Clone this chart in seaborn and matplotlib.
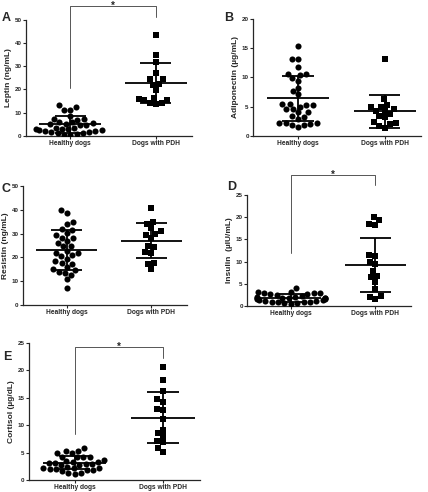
import numpy as np
import pandas as pd
import seaborn as sns
import matplotlib.pyplot as plt

groups = ["Healthy dogs", "Dogs with PDH"]

leptin_healthy = [13.2, 12.5, 11.3, 11.2, 8.5, 7.3, 7.2, 7.0, 6.0, 5.8, 5.5, 5.2, 5.0, 4.8, 4.6,
                  3.5, 3.3, 3.1, 3.0, 2.8, 2.6, 2.4, 2.2, 2.0, 1.8, 1.5, 1.2, 1.0, 0.7, 0.4, 0.3]
leptin_pdh = [43.5, 35.0, 31.8, 27.2, 24.3, 24.3, 22.5, 22.0, 19.8, 16.2, 15.3, 15.3, 16.0, 14.0, 13.8, 14.0]
adipo_healthy = [15.3, 13.2, 13.2, 11.7, 10.6, 10.5, 10.3, 9.8, 9.3, 8.2, 7.7, 7.1, 5.3, 5.2, 5.0, 5.4,
                 5.5, 4.6, 4.6, 4.0, 4.0, 3.3, 3.2, 2.8, 2.2, 2.1, 2.1, 2.0, 1.9, 1.8, 1.5]
adipo_pdh = [13.2, 6.2, 5.3, 5.0, 4.9, 4.5, 4.3, 4.2, 3.7, 3.4, 3.2, 2.3, 2.1, 2.0, 1.7, 1.4]
resist_healthy = [39.8, 38.8, 35.0, 34.2, 32.0, 31.5, 30.3, 29.3, 28.3, 28.0, 27.0, 26.0, 25.0, 24.8,
                  22.8, 22.0, 21.7, 21.0, 20.8, 19.5, 18.3, 17.5, 17.2, 16.0, 15.0, 14.8, 14.0, 13.5,
                  12.8, 11.0, 7.0]
resist_pdh = [40.8, 35.0, 34.2, 32.5, 31.0, 30.0, 29.3, 28.0, 25.0, 24.2, 22.3, 22.0, 17.5, 17.2, 15.2]
insulin_healthy = [4.0, 3.1, 3.1, 3.0, 3.0, 3.0, 2.8, 2.7, 2.5, 2.2, 2.0, 2.0, 1.9, 1.8, 1.7, 1.6,
                   1.5, 1.4, 1.3, 1.2, 1.1, 1.0, 0.9, 0.8, 0.8, 0.7, 0.6, 0.5, 1.9, 1.7]
insulin_pdh = [20.1, 19.3, 18.5, 18.2, 11.5, 11.3, 10.0, 9.5, 7.8, 6.8, 6.5, 5.5, 3.8, 2.2, 2.0, 1.5]
cortisol_healthy = [5.8, 5.3, 5.4, 5.0, 4.9, 4.3, 4.3, 4.3, 4.2, 3.6, 3.5, 3.4, 3.3, 3.2, 3.2, 3.0,
                    2.9, 2.8, 2.8, 2.4, 2.3, 2.3, 2.2, 2.0, 2.0, 1.9, 1.8, 1.6, 1.4, 1.2, 1.3]
cortisol_pdh = [20.6, 18.2, 16.2, 14.7, 14.2, 13.0, 12.8, 11.2, 9.2, 8.6, 8.0, 7.2, 6.9, 5.8, 5.1]

# mean and SD
leptin_mean, leptin_sd = [4.9, 22.8], [3.8, 8.7]
adipo_mean, adipo_sd = [6.4, 4.2], [3.8, 2.8]
resist_mean, resist_sd = [23.2, 27.0], [8.5, 7.3]
insulin_mean, insulin_sd = [1.9, 9.2], [0.9, 6.1]
cortisol_mean, cortisol_sd = [3.2, 11.4], [1.2, 4.7]

panels = [
    ("A", "Leptin (ng/mL)", leptin_healthy, leptin_pdh, leptin_mean, leptin_sd, 50, 10, (56, 20.5, 51.3)),
    ("B", "Adiponectin (\u00b5g/mL)", adipo_healthy, adipo_pdh, adipo_mean, adipo_sd, 20, 5, None),
    ("C", "Resistin (ng/mL)", resist_healthy, resist_pdh, resist_mean, resist_sd, 50, 10, None),
    ("D", "Insulin  (\u00b5IU/mL)", insulin_healthy, insulin_pdh, insulin_mean, insulin_sd, 25, 5, (29.5, 12, 27.2)),
    ("E", "Cortisol (\u00b5g/dL)", cortisol_healthy, cortisol_pdh, cortisol_mean, cortisol_sd, 25, 5, (24.3, 8.4, 22.3)),
]

# axes rectangles in figure fraction
rects = {
    "A": [0.060, 0.724, 0.388, 0.236],
    "B": [0.591, 0.724, 0.393, 0.238],
    "C": [0.053, 0.380, 0.384, 0.242],
    "D": [0.577, 0.378, 0.383, 0.226],
    "E": [0.067, 0.024, 0.400, 0.279],
}
label_pos = {"A": (0.005, 0.975), "B": (0.523, 0.975), "C": (0.003, 0.628), "D": (0.530, 0.632), "E": (0.008, 0.287)}

sns.set_style("ticks")
plt.rcParams["font.family"] = ["Liberation Sans", "DejaVu Sans"]
plt.rcParams["font.weight"] = "bold"

fig = plt.figure(figsize=(4.28, 4.92), dpi=100)

for name, ylabel, healthy, pdh, mean, sd, ymax, step, bracket in panels:
    ax = fig.add_axes(rects[name])
    df = pd.DataFrame({"group": [groups[0]] * len(healthy) + [groups[1]] * len(pdh),
                       "value": healthy + pdh})
    sns.swarmplot(data=df[df.group == groups[0]], x="group", y="value", order=groups,
                  marker="o", color="black", size=4.4, ax=ax, warn_thresh=1)
    sns.swarmplot(data=df[df.group == groups[1]], x="group", y="value", order=groups,
                  marker="s", color="black", size=4.2, ax=ax, warn_thresh=1)
    for i in range(2):
        ax.hlines(mean[i], i - 0.36, i + 0.36, color="black", lw=1.3, zorder=5)
        ax.hlines([mean[i] - sd[i], mean[i] + sd[i]], i - 0.18, i + 0.18, color="black", lw=1.3, zorder=5)
        ax.vlines(i, mean[i] - sd[i], mean[i] + sd[i], color="black", lw=1.3, zorder=5)
    ax.set_xlim(-0.52, 1.42)
    ax.set_ylim(0, ymax)
    ax.set_yticks(np.arange(0, ymax + 1, step))
    ax.tick_params(axis="y", labelsize=4.5, length=2, width=0.8, pad=1)
    ax.tick_params(axis="x", labelsize=4.8, length=2, width=0.8, pad=1)
    for lab in ax.get_xticklabels() + ax.get_yticklabels():
        lab.set_fontweight("bold")
    ax.set_xlabel("")
    ax.set_ylabel(ylabel, fontsize=6, fontweight="bold", labelpad=2)
    sns.despine(ax=ax)
    for s in ["left", "bottom"]:
        ax.spines[s].set_linewidth(0.9)
    if bracket is not None:
        top, yl, yr = bracket
        ax.plot([0, 0, 1, 1], [yl, top, top, yr], color="#555555", lw=0.7, clip_on=False)
        ax.text(0.5, top, "*", ha="center", va="center", fontsize=7, fontweight="bold")
    fig.text(*label_pos[name], name, fontsize=9, fontweight="bold", va="top", ha="left")

fig.savefig("out.png", dpi=100)
